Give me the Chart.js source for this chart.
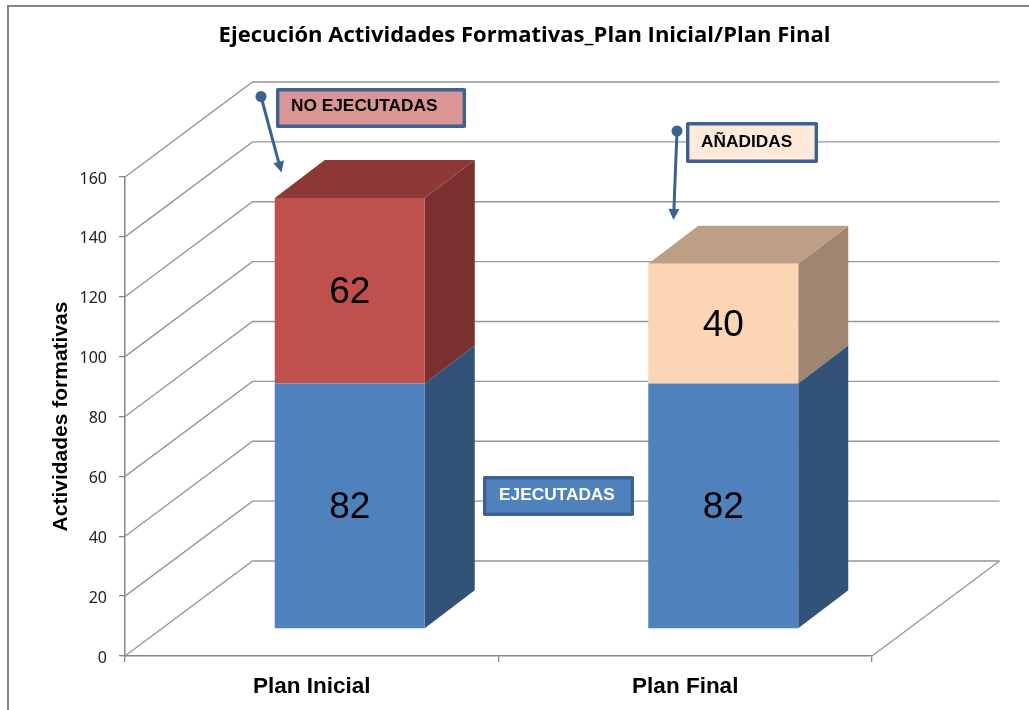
<!DOCTYPE html>
<html>
<head>
<meta charset="utf-8">
<style>html,body{margin:0;padding:0;background:#fff}canvas{display:block}</style>
<script src="https://cdn.jsdelivr.net/npm/chart.js@4"></script>
</head>
<body>
<canvas id="c" width="1029" height="710"></canvas>
<script>
const categories = ["Plan Inicial", "Plan Final"];
const ejecutadas = [82, 82];
const noEjecutadas = [62, null];
const anadidas = [null, 40];
const chartTitle = "Ejecución Actividades Formativas_Plan Inicial/Plan Final";
const yTitle = "Actividades formativas";

const WALL = {dx: 127.5, dy: -95};
const BAR_SHIFT = {dx: 38, dy: -27};
const DEPTH = {dx: 50, dy: -38};
const GRID = "#979797";

const faces = [
  {side: "#325278", top: "#3B6291"},
  {side: "#7A302E", top: "#8E3835"},
  {side: "#A08672", top: "#BD9F86"}
];
function poly(ctx, pts, fill) {
  ctx.beginPath();
  pts.forEach((p, i) => i ? ctx.lineTo(p[0], p[1]) : ctx.moveTo(p[0], p[1]));
  ctx.closePath();
  ctx.fillStyle = fill;
  ctx.fill();
}
function callout(ctx, b) {
  ctx.fillStyle = b.fill;
  ctx.strokeStyle = "#3B6290";
  ctx.lineWidth = 3.4;
  ctx.lineJoin = "round";
  ctx.beginPath();
  ctx.rect(b.x + 1.7, b.y + 1.7, b.w - 3.4, b.h - 3.4);
  ctx.fill();
  ctx.stroke();
  ctx.fillStyle = b.color;
  ctx.font = "bold 17.3px 'Liberation Sans'";
  ctx.textAlign = "left";
  ctx.textBaseline = "middle";
  ctx.fillText(b.text, b.tx, b.ty);
  if (b.from) {
    const [x0, y0] = b.from, [x1, y1] = b.to;
    const a = Math.atan2(y1 - y0, x1 - x0);
    ctx.fillStyle = ctx.strokeStyle = "#3B6290";
    ctx.beginPath();
    ctx.arc(x0, y0, 5.5, 0, Math.PI * 2);
    ctx.fill();
    ctx.lineWidth = 3;
    ctx.lineJoin = "miter";
    ctx.beginPath();
    ctx.moveTo(x0, y0);
    ctx.lineTo(x1 - 8 * Math.cos(a), y1 - 8 * Math.sin(a));
    ctx.stroke();
    poly(ctx, [
      [x1, y1],
      [x1 - 11 * Math.cos(a) + 5.5 * Math.sin(a), y1 - 11 * Math.sin(a) - 5.5 * Math.cos(a)],
      [x1 - 11 * Math.cos(a) - 5.5 * Math.sin(a), y1 - 11 * Math.sin(a) + 5.5 * Math.cos(a)]
    ], "#3B6290");
  }
}

const scene3d = {
  id: "scene3d",
  afterLayout(chart) {
    chart.titleBlock.left = 20;
    chart.titleBlock.right = 1029;
  },
  beforeDatasetsDraw(chart) {
    const {ctx, scales: {x, y}} = chart;
    const L = x.left, R = x.right;
    ctx.save();
    // outer frame
    ctx.strokeStyle = "#868686";
    ctx.lineWidth = 2;
    ctx.beginPath();
    ctx.moveTo(8, 710);
    ctx.lineTo(8, 6);
    ctx.lineTo(1029, 6);
    ctx.stroke();
    // walls and floor
    ctx.strokeStyle = GRID;
    ctx.lineWidth = 1.4;
    y.ticks.forEach(t => {
      const py = y.getPixelForValue(t.value);
      ctx.beginPath();
      ctx.moveTo(L, py);
      ctx.lineTo(L + WALL.dx, py + WALL.dy);
      ctx.lineTo(R + WALL.dx, py + WALL.dy);
      ctx.stroke();
    });
    const py0 = y.getPixelForValue(0);
    ctx.beginPath();
    ctx.moveTo(R, py0);
    ctx.lineTo(R + WALL.dx, py0 + WALL.dy);
    ctx.stroke();
    ctx.restore();
  },
  beforeDatasetDraw(chart, args) {
    const {ctx} = chart;
    const meta = chart.getDatasetMeta(args.index);
    const f = faces[args.index];
    const sets = chart.data.datasets;
    ctx.save();
    ctx.translate(BAR_SHIFT.dx, BAR_SHIFT.dy);
    meta.data.forEach((el, i) => {
      if (sets[args.index].data[i] == null) return;
      const {x, y, base, width} = el.getProps(["x", "y", "base", "width"], true);
      const l = x - width / 2, r = x + width / 2;
      const d = DEPTH;
      poly(ctx, [[r, y], [r + d.dx, y + d.dy], [r + d.dx, base + d.dy], [r, base]], f.side);
      const covered = sets.slice(args.index + 1).some(s => s.data[i] != null);
      if (!covered) {
        poly(ctx, [[l, y], [r, y], [r + d.dx, y + d.dy], [l + d.dx, y + d.dy]], f.top);
      }
    });
  },
  afterDatasetDraw(chart) {
    chart.ctx.restore();
  },
  afterDatasetsDraw(chart) {
    const {ctx} = chart;
    ctx.save();
    // value labels on the front faces
    chart.data.datasets.forEach((ds, di) => {
      chart.getDatasetMeta(di).data.forEach((el, i) => {
        const v = ds.data[i];
        if (v == null) return;
        const {x, y, base} = el.getProps(["x", "y", "base"], true);
        ctx.fillStyle = "#000";
        ctx.font = "37px 'Liberation Sans'";
        ctx.textAlign = "center";
        ctx.textBaseline = "middle";
        ctx.fillText(String(v), x + BAR_SHIFT.dx, (y + base) / 2 + BAR_SHIFT.dy + 2);
      });
    });
    // callouts
    callout(ctx, {x: 276, y: 88, w: 190, h: 40, fill: "#D99694", color: "#000", text: "NO EJECUTADAS", tx: 291, ty: 106, from: [261, 96.5], to: [281.5, 172.5]});
    callout(ctx, {x: 686, y: 122, w: 132, h: 41, fill: "#FDEADA", color: "#000", text: "AÑADIDAS", tx: 701, ty: 142, from: [677, 131], to: [673.5, 220]});
    callout(ctx, {x: 483, y: 476, w: 151, h: 40, fill: "#4F81BD", color: "#fff", text: "EJECUTADAS", tx: 499, ty: 495});
    ctx.restore();
  }
};

new Chart(document.getElementById("c"), {
  type: "bar",
  data: {
    labels: categories,
    datasets: [
      {label: "Ejecutadas", data: ejecutadas, backgroundColor: "#4F81BD"},
      {label: "No ejecutadas", data: noEjecutadas, backgroundColor: "#C0504D"},
      {label: "Añadidas", data: anadidas, backgroundColor: "#FCD5B5"}
    ]
  },
  plugins: [scene3d],
  options: {
    responsive: false,
    animation: false,
    layout: {padding: {left: 0, right: 157, top: 0, bottom: 0}},
    datasets: {bar: {categoryPercentage: 1, barPercentage: 0.4016, borderWidth: 0}},
    plugins: {
      legend: {display: false},
      tooltip: {enabled: false},
      title: {
        display: true,
        text: chartTitle,
        color: "#000",
        font: {family: "'Open Sans'", size: 22, weight: "bold", lineHeight: 1.2},
        padding: {top: 23, bottom: 127.6}
      }
    },
    scales: {
      x: {
        stacked: true,
        afterFit(s) { s.height = 54; },
        grid: {drawOnChartArea: false, color: "#868686", lineWidth: 1.3, tickLength: 6},
        border: {color: "#868686", width: 1.5},
        ticks: {color: "#000", font: {family: "'Liberation Sans'", size: 22.5, weight: "bold"}, padding: 11, maxRotation: 0}
      },
      y: {
        stacked: true,
        min: 0,
        max: 160,
        afterFit(s) { s.width = 125; },
        grid: {drawOnChartArea: false, color: "#868686", lineWidth: 1.3, tickLength: 6},
        border: {color: "#868686", width: 1.5},
        ticks: {stepSize: 20, color: "#222", font: {family: "'Noto Sans'", size: 16}, padding: 12, labelOffset: 2},
        title: {
          display: true,
          text: yTitle,
          color: "#000",
          font: {family: "'Liberation Sans'", size: 21, weight: "bold", lineHeight: 1.2},
          padding: {top: 49, bottom: 0}
        }
      }
    }
  }
});
</script>
</body>
</html>
